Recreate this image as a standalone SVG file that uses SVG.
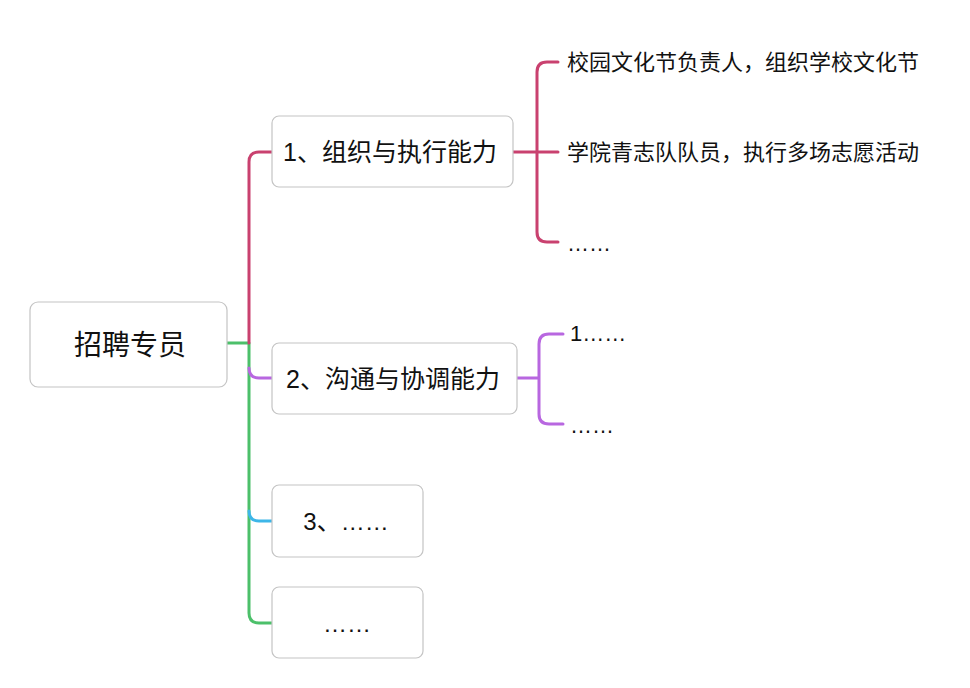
<svg xmlns="http://www.w3.org/2000/svg" width="970" height="688" viewBox="0 0 970 688">
<style>
.box{fill:#fff;stroke:#c4c4c4;stroke-width:1.2}
.t{font-family:"Liberation Sans","Noto Sans CJK SC",sans-serif;fill:#111}
.c{fill:none;stroke-width:3;stroke-linecap:round;stroke-linejoin:round}
.m{stroke:#c9416f}.p{stroke:#b867e0}.g{stroke:#4cc06a}.b{stroke:#3db6e8}
</style>
<rect width="970" height="688" fill="#fff"/>
<g id="connectors">
<path class="c g" d="M227,343 H249 V613 Q249,623 259,623 H272"/>
<path class="c m" d="M249,343 V162 Q249,152 259,152 H272"/>
<path class="c p" d="M249,368 Q249,378 259,378 H272"/>
<path class="c b" d="M249,511 Q249,521 259,521 H272"/>
<path class="c m" d="M513,152 H558 M537,152 V72 Q537,62 547,62 H558 M537,152 V232 Q537,242 547,242 H558"/>
<path class="c p" d="M517,378 H539 M539,378 V344 Q539,334 549,334 H563 M539,378 V414 Q539,424 549,424 H563"/>
</g>
<g id="root">
<rect class="box" x="30" y="302" width="197" height="85" rx="8"/>
<text class="t" x="130" y="355" font-size="28" text-anchor="middle">招聘专员</text>
</g>
<g id="n1">
<rect class="box" x="272" y="116" width="241" height="71" rx="7"/>
<text class="t" x="390" y="161" font-size="25" text-anchor="middle">1、组织与执行能力</text>
</g>
<g id="n2">
<rect class="box" x="272" y="343" width="245" height="71" rx="7"/>
<text class="t" x="393" y="388" font-size="25" text-anchor="middle">2、沟通与协调能力</text>
</g>
<g id="n3">
<rect class="box" x="272" y="485" width="151" height="72" rx="7"/>
<text class="t" x="346" y="530" font-size="24" text-anchor="middle">3、……</text>
</g>
<g id="n4">
<rect class="box" x="272" y="587" width="151" height="71" rx="7"/>
<text class="t" x="347" y="632" font-size="24" text-anchor="middle">……</text>
</g>
<g id="l1"><text class="t" x="567" y="70" font-size="22">校园文化节负责人，组织学校文化节</text></g>
<g id="l2"><text class="t" x="567" y="160" font-size="22">学院青志队队员，执行多场志愿活动</text></g>
<g id="l3"><text class="t" x="567" y="251" font-size="22">……</text></g>
<g id="l4"><text class="t" x="570" y="341" font-size="22">1……</text></g>
<g id="l5"><text class="t" x="570" y="433" font-size="22">……</text></g>
</svg>
